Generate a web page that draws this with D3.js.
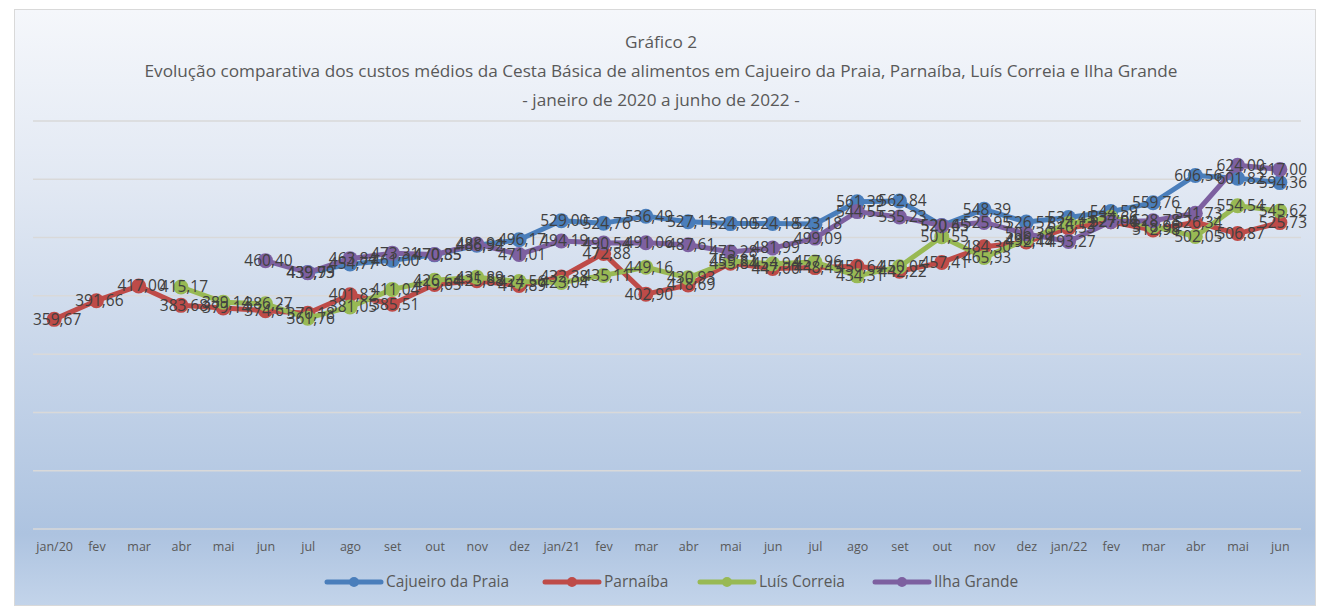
<!DOCTYPE html>
<html>
<head>
<meta charset="utf-8">
<script src="https://cdn.jsdelivr.net/npm/d3@7"></script>
<style>
  body { margin: 0; background: #fff; }
  svg { display: block; font-family: 'Open Sans', sans-serif; }
</style>
</head>
<body>
<div id="chart"></div>
<script>
// months on the x axis
const months = ['jan/20','fev','mar','abr','mai','jun','jul','ago','set','out','nov','dez',
  'jan/21','fev','mar','abr','mai','jun','jul','ago','set','out','nov','dez',
  'jan/22','fev','mar','abr','mai','jun'];

// average cost of the basic food basket (R$)
const cajueiro = [null,null,null,null,null,null,
  439.93,454.77,461.00,470.35,486.92,496.17,
  529.00,524.76,536.49,527.11,524.00,524.18,523.18,561.39,562.84,520.65,548.39,526.57,
  534.45,544.59,559.76,606.56,601.82,594.36];
const parnaiba = [359.67,391.66,417.00,383.68,379.14,374.61,370.18,401.82,385.51,419.65,425.88,417.89,
  432.38,472.88,402.90,418.69,455.84,447.00,448.45,450.64,442.22,457.41,484.30,492.44,
  516.53,527.06,512.98,526.34,506.87,525.73];
const luisCorreia = [null,null,null,415.17,389.14,386.27,361.76,381.05,411.04,426.64,431.89,424.56,
  423.04,435.11,449.16,430.93,459.81,454.94,457.96,434.31,450.05,501.55,465.93,496.19,
  524.12,534.66,518.96,502.05,554.54,545.62];
const ilhaGrande = [null,null,null,null,null,460.40,439.79,463.84,473.31,470.85,488.94,471.01,
  494.19,490.54,491.06,487.61,475.28,481.99,499.09,544.55,535.23,520.45,525.95,506.39,
  493.27,527.04,528.78,541.73,624.00,617.00];

const seriesNames = ['Cajueiro da Praia','Parnaíba','Luís Correia','Ilha Grande'];
const seriesColors = ['#4a7ebb','#be4b48','#98b954','#7d60a0'];
const yTicks = [0,100,200,300,400,500,600,700];

const series = [cajueiro, parnaiba, luisCorreia, ilhaGrande].map((vals, i) => ({
  name: seriesNames[i],
  color: seriesColors[i],
  values: vals.map((v, j) => ({ i: j, v: v }))
}));

const W = 1322, H = 610;
const plot = { left: 33, right: 1301, top: 121, bottom: 529 };

const ptBR = d3.formatLocale({ decimal: ',', thousands: '.', grouping: [3], currency: ['R$', ''] });
const fmt = ptBR.format('.2f');

const svg = d3.select('#chart').append('svg')
  .attr('width', W)
  .attr('height', H);

const defs = svg.append('defs');
const grad = defs.append('linearGradient')
  .attr('id', 'bg')
  .attr('x1', 0).attr('y1', 0).attr('x2', 0).attr('y2', 1);
grad.append('stop').attr('offset', '0%').attr('stop-color', '#f5f7fb');
grad.append('stop').attr('offset', '30%').attr('stop-color', '#e1e8f3');
grad.append('stop').attr('offset', '88%').attr('stop-color', '#adc3e0');
grad.append('stop').attr('offset', '100%').attr('stop-color', '#c3d4ea');

// chart frame
svg.append('rect')
  .attr('x', 14.5).attr('y', 9.5)
  .attr('width', 1301).attr('height', 596)
  .attr('fill', 'url(#bg)')
  .attr('stroke', '#d9d9d9');

const x = d3.scalePoint()
  .domain(d3.range(months.length))
  .range([plot.left, plot.right])
  .padding(0.5);

const y = d3.scaleLinear()
  .domain([0, 700])
  .range([plot.bottom, plot.top]);

// titles
const titles = ['Gráfico 2',
  'Evolução comparativa dos custos médios da Cesta Básica de alimentos em Cajueiro da Praia, Parnaíba, Luís Correia e Ilha Grande',
  '- janeiro de 2020 a junho de 2022 -'];
svg.append('g').selectAll('text')
  .data(titles)
  .enter().append('text')
    .attr('x', 661)
    .attr('y', (d, i) => 48 + i * 29)
    .attr('text-anchor', 'middle')
    .attr('font-size', '17.2px')
    .attr('fill', '#595959')
    .text(d => d);

// gridlines
svg.append('g').selectAll('line')
  .data(yTicks)
  .enter().append('line')
    .attr('x1', plot.left).attr('x2', plot.right)
    .attr('y1', d => y(d)).attr('y2', d => y(d))
    .attr('stroke', '#d9d9d9')
    .attr('stroke-width', 1.5);

// x axis labels
const xAxis = d3.axisBottom(x)
  .tickSize(0)
  .tickPadding(13)
  .tickFormat(i => months[i]);
const gx = svg.append('g')
  .attr('transform', `translate(0,${plot.bottom})`)
  .call(xAxis);
gx.select('.domain').remove();
gx.selectAll('text')
  .attr('font-family', "'Open Sans', sans-serif")
  .attr('font-size', '12.5px')
  .attr('fill', '#595959');

const line = d3.line()
  .defined(d => d.v !== null)
  .x(d => x(d.i))
  .y(d => y(d.v));

// lines and markers
series.forEach(s => {
  const g = svg.append('g');
  g.append('path')
    .datum(s.values)
    .attr('d', line)
    .attr('fill', 'none')
    .attr('stroke', s.color)
    .attr('stroke-width', 5)
    .attr('stroke-linejoin', 'round')
    .attr('stroke-linecap', 'round');
  g.selectAll('circle')
    .data(s.values.filter(d => d.v !== null))
    .enter().append('circle')
      .attr('cx', d => x(d.i))
      .attr('cy', d => y(d.v))
      .attr('r', 7.5)
      .attr('fill', s.color);
});

// data labels on top
series.forEach(s => {
  svg.append('g').selectAll('text')
    .data(s.values.filter(d => d.v !== null))
    .enter().append('text')
      .attr('x', d => x(d.i) + 3)
      .attr('y', d => y(d.v))
      .attr('dy', '0.35em')
      .attr('text-anchor', 'middle')
      .attr('font-size', '15.5px')
      .attr('fill', '#404040')
      .text(d => fmt(d.v));
});

// legend
const legendX = [325, 543, 698, 873];
const legend = svg.append('g').selectAll('g')
  .data(series)
  .enter().append('g')
    .attr('transform', (d, i) => `translate(${legendX[i]},582)`);
legend.append('line')
  .attr('x1', 2).attr('x2', 56)
  .attr('stroke', d => d.color)
  .attr('stroke-width', 5)
  .attr('stroke-linecap', 'round');
legend.append('circle')
  .attr('cx', 29).attr('r', 5)
  .attr('fill', d => d.color);
legend.append('text')
  .attr('x', 61)
  .attr('dy', '0.35em')
  .attr('font-size', '15.5px')
  .attr('fill', '#595959')
  .text(d => d.name);
</script>
</body>
</html>
